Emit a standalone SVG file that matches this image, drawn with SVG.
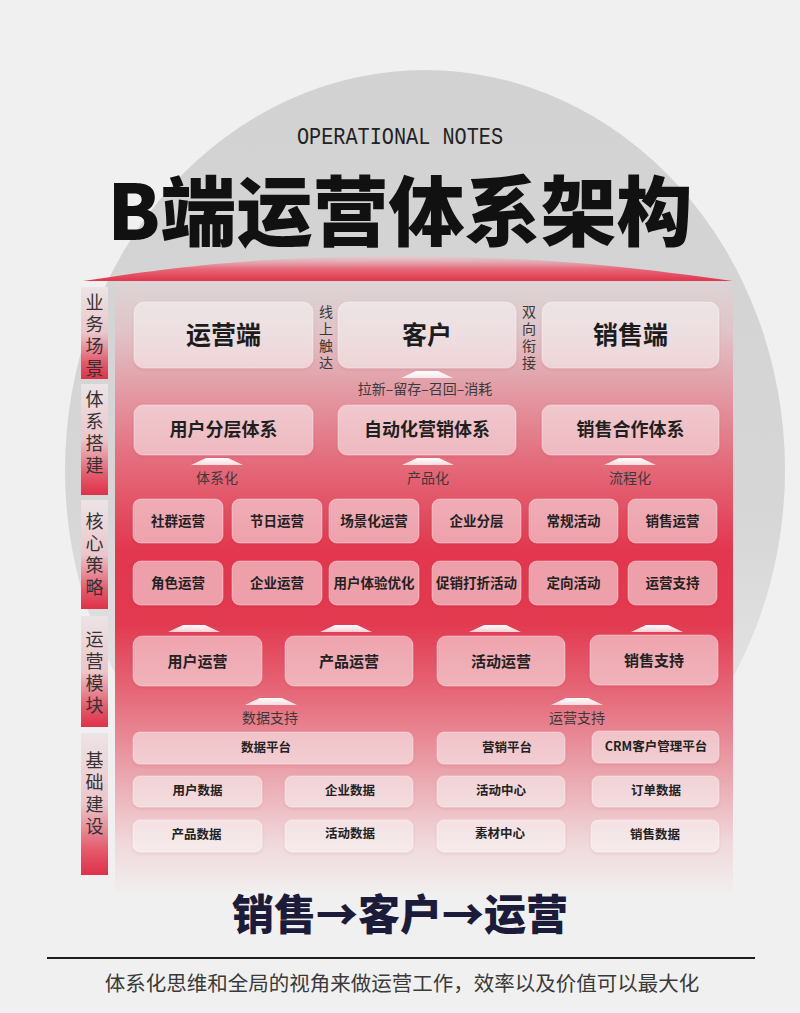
<svg xmlns="http://www.w3.org/2000/svg" width="800" height="1013" viewBox="0 0 800 1013">
  <defs>
    <linearGradient id="circleGrad" x1="0" y1="0" x2="0" y2="1">
      <stop offset="0" stop-color="#d2d2d2"/>
      <stop offset="0.55" stop-color="#d6d6d6"/>
      <stop offset="0.78" stop-color="#e3e3e3"/>
      <stop offset="1" stop-color="#f0f0f0"/>
    </linearGradient>
    <linearGradient id="roofGrad" x1="0" y1="0" x2="0" y2="1">
      <stop offset="0" stop-color="#e8c9cd" stop-opacity="0.6"/>
      <stop offset="0.5" stop-color="#e66b7c"/>
      <stop offset="1" stop-color="#e1344b"/>
    </linearGradient>
    <linearGradient id="panelGrad" x1="0" y1="0" x2="0" y2="1">
      <stop offset="0" stop-color="#dcd4d5"/>
      <stop offset="0.08" stop-color="#e0c4c8"/>
      <stop offset="0.18" stop-color="#e39aa4"/>
      <stop offset="0.3" stop-color="#e46a7a"/>
      <stop offset="0.44" stop-color="#e2374e"/>
      <stop offset="0.56" stop-color="#e23a50"/>
      <stop offset="0.68" stop-color="#e66b7b"/>
      <stop offset="0.8" stop-color="#eaa2ab"/>
      <stop offset="0.92" stop-color="#f0d8db"/>
      <stop offset="1" stop-color="#f1eeee"/>
    </linearGradient>
    <linearGradient id="labelGrad" x1="0" y1="0" x2="0" y2="1">
      <stop offset="0" stop-color="#ece4e5"/>
      <stop offset="0.5" stop-color="#ebc6cb"/>
      <stop offset="0.82" stop-color="#e45a6c"/>
      <stop offset="1" stop-color="#df3149"/>
    </linearGradient>
    <linearGradient id="arrowGrad" x1="0" y1="0" x2="0" y2="1">
      <stop offset="0" stop-color="#ffffff"/>
      <stop offset="1" stop-color="#ffffff" stop-opacity="0.75"/>
    </linearGradient>
    <filter id="shadow" x="-10%" y="-20%" width="120%" height="150%">
      <feDropShadow dx="0" dy="1.5" stdDeviation="1.5" flood-color="#8a2030" flood-opacity="0.18"/>
    </filter>
    <symbol id="chev" viewBox="0 0 52 7" overflow="visible">
      <polygon points="0,7 15,0 37,0 52,7" fill="url(#arrowGrad)"/>
    </symbol>
  </defs>
  <style>
    .cjk { font-family: "Noto Sans CJK SC", "Noto Sans", sans-serif; }
    .box { fill: #ffffff; fill-opacity: 0.5; stroke: #ffffff; stroke-opacity: 0.35; stroke-width: 1; filter: url(#shadow); }
    .lbl { fill: url(#labelGrad); }
    .side { font-size: 18px; fill: #333333; writing-mode: vertical-rl; letter-spacing: 4px; }
    .t1 { font-size: 25px; font-weight: 700; fill: #1c1c1c; text-anchor: middle; }
    .t2 { font-size: 18px; font-weight: 700; fill: #1f1f1f; text-anchor: middle; }
    .t3 { font-size: 13.5px; font-weight: 700; fill: #222222; text-anchor: middle; }
    .t4 { font-size: 15px; font-weight: 700; fill: #222222; text-anchor: middle; }
    .t5 { font-size: 12.5px; font-weight: 700; fill: #222222; text-anchor: middle; }
    .note { font-size: 14px; fill: #3a3a3a; text-anchor: middle; }
    .vnote { font-size: 14px; fill: #3a3a3a; writing-mode: vertical-rl; letter-spacing: 3px; }
  </style>

  <rect x="0" y="0" width="800" height="1013" fill="#f0f0f0"/>
  <ellipse cx="425" cy="470" rx="360" ry="400" fill="url(#circleGrad)"/>

  <text x="400" y="144" font-family="Liberation Mono, monospace" font-size="23" fill="#222222" text-anchor="middle" textLength="206" lengthAdjust="spacingAndGlyphs">OPERATIONAL NOTES</text>
  <text class="cjk" x="400" y="240" font-size="76" font-weight="900" fill="#111111" text-anchor="middle">B端运营体系架构</text>

  <path d="M83,281 C200,263 270,257 400,256 C530,257 600,263 733,281 Z" fill="url(#roofGrad)"/>
  <rect x="115" y="282" width="618" height="610" fill="url(#panelGrad)"/>

  <!-- side labels -->
  <g id="label-yewu"><rect class="lbl" x="81" y="287" width="27" height="92"/>
    <text class="cjk side" x="94.5" y="293">业务场景</text></g>
  <g id="label-tixi"><rect class="lbl" x="81" y="384" width="27" height="111"/>
    <text class="cjk side" x="94.5" y="390">体系搭建</text></g>
  <g id="label-hexin"><rect class="lbl" x="81" y="500" width="27" height="109"/>
    <text class="cjk side" x="94.5" y="512">核心策略</text></g>
  <g id="label-yunying"><rect class="lbl" x="81" y="616" width="27" height="111"/>
    <text class="cjk side" x="94.5" y="630">运营模块</text></g>
  <g id="label-jichu"><rect class="lbl" x="81" y="733" width="27" height="142"/>
    <text class="cjk side" x="94.5" y="751">基础建设</text></g>

  <!-- connectors -->
  <g id="connectors">
    <use href="#chev" x="401" y="371" width="52" height="7"/>
    <use href="#chev" x="191" y="458" width="52" height="7"/>
    <use href="#chev" x="402" y="458" width="52" height="7"/>
    <use href="#chev" x="604" y="458" width="52" height="7"/>
    <use href="#chev" x="168" y="625" width="52" height="7"/>
    <use href="#chev" x="320" y="625" width="52" height="7"/>
    <use href="#chev" x="469" y="625" width="52" height="7"/>
    <use href="#chev" x="631" y="625" width="52" height="7"/>
    <use href="#chev" x="245" y="698" width="52" height="7"/>
    <use href="#chev" x="551" y="698" width="52" height="7"/>
    <text class="cjk note" x="425" y="394">拉新–留存–召回–消耗</text>
    <text class="cjk note" x="217" y="483">体系化</text>
    <text class="cjk note" x="428" y="483">产品化</text>
    <text class="cjk note" x="630" y="483">流程化</text>
    <text class="cjk note" x="270" y="723">数据支持</text>
    <text class="cjk note" x="577" y="723">运营支持</text>
    <text class="cjk vnote" x="326" y="305">线上触达</text>
    <text class="cjk vnote" x="529" y="305">双向衔接</text>
  </g>

  <!-- row 1 -->
  <g id="n-yunyingduan"><rect class="box" x="134" y="302" width="179" height="66" rx="10"/><text class="cjk t1" x="223.5" y="344">运营端</text></g>
  <g id="n-kehu"><rect class="box" x="338" y="302" width="178" height="66" rx="10"/><text class="cjk t1" x="427" y="344">客户</text></g>
  <g id="n-xiaoshouduan"><rect class="box" x="542" y="302" width="177" height="66" rx="10"/><text class="cjk t1" x="630.5" y="344">销售端</text></g>

  <!-- row 2 -->
  <g id="n-yonghufenceng"><rect class="box" x="134" y="405" width="179" height="50" rx="9"/><text class="cjk t2" x="223.5" y="436">用户分层体系</text></g>
  <g id="n-zidonghua"><rect class="box" x="338" y="405" width="178" height="50" rx="9"/><text class="cjk t2" x="427" y="436">自动化营销体系</text></g>
  <g id="n-xiaoshouhezuo"><rect class="box" x="542" y="405" width="177" height="50" rx="9"/><text class="cjk t2" x="630.5" y="436">销售合作体系</text></g>

  <!-- row 3 -->
  <g id="n-shequn"><rect class="box" x="133" y="499" width="90" height="44" rx="8"/><text class="cjk t3" x="178" y="526">社群运营</text></g>
  <g id="n-jieri"><rect class="box" x="232" y="499" width="90" height="44" rx="8"/><text class="cjk t3" x="277" y="526">节日运营</text></g>
  <g id="n-changjinghua"><rect class="box" x="329" y="499" width="90" height="44" rx="8"/><text class="cjk t3" x="374" y="526">场景化运营</text></g>
  <g id="n-qiyefenceng"><rect class="box" x="432" y="499" width="89" height="44" rx="8"/><text class="cjk t3" x="476.5" y="526">企业分层</text></g>
  <g id="n-changgui"><rect class="box" x="529" y="499" width="89" height="44" rx="8"/><text class="cjk t3" x="573.5" y="526">常规活动</text></g>
  <g id="n-xiaoshouyunying"><rect class="box" x="628" y="499" width="89" height="44" rx="8"/><text class="cjk t3" x="672.5" y="526">销售运营</text></g>

  <g id="n-juese"><rect class="box" x="133" y="561" width="90" height="44" rx="8"/><text class="cjk t3" x="178" y="588">角色运营</text></g>
  <g id="n-qiyeyunying"><rect class="box" x="232" y="561" width="90" height="44" rx="8"/><text class="cjk t3" x="277" y="588">企业运营</text></g>
  <g id="n-tiyan"><rect class="box" x="329" y="561" width="90" height="44" rx="8"/><text class="cjk t3" x="374" y="588">用户体验优化</text></g>
  <g id="n-cuxiao"><rect class="box" x="432" y="561" width="89" height="44" rx="8"/><text class="cjk t3" x="476.5" y="588">促销打折活动</text></g>
  <g id="n-dingxiang"><rect class="box" x="529" y="561" width="89" height="44" rx="8"/><text class="cjk t3" x="573.5" y="588">定向活动</text></g>
  <g id="n-yunyingzhichi"><rect class="box" x="628" y="561" width="89" height="44" rx="8"/><text class="cjk t3" x="672.5" y="588">运营支持</text></g>

  <!-- row 4 -->
  <g id="n-yonghuyunying"><rect class="box" x="133" y="636" width="129" height="50" rx="9"/><text class="cjk t4" x="197.5" y="667">用户运营</text></g>
  <g id="n-chanpinyunying"><rect class="box" x="285" y="636" width="128" height="50" rx="9"/><text class="cjk t4" x="349" y="667">产品运营</text></g>
  <g id="n-huodongyunying"><rect class="box" x="437" y="636" width="128" height="50" rx="9"/><text class="cjk t4" x="501" y="667">活动运营</text></g>
  <g id="n-xiaoshouzhichi"><rect class="box" x="590" y="635" width="128" height="50" rx="9"/><text class="cjk t4" x="654" y="666">销售支持</text></g>

  <!-- row 5 -->
  <g id="n-shujupingtai"><rect class="box" x="133" y="732" width="280" height="32" rx="7"/><text class="cjk t5" x="266" y="752">数据平台</text></g>
  <g id="n-yingxiaopingtai"><rect class="box" x="437" y="732" width="128" height="32" rx="7"/><text class="cjk t5" x="507" y="752">营销平台</text></g>
  <g id="n-crm"><rect class="box" x="592" y="731" width="127" height="32" rx="7"/><text class="cjk t5" x="656" y="751">CRM客户管理平台</text></g>

  <g id="n-yonghushuju"><rect class="box" x="133" y="776" width="129" height="31" rx="7"/><text class="cjk t5" x="197.5" y="795">用户数据</text></g>
  <g id="n-qiyeshuju"><rect class="box" x="285" y="776" width="128" height="31" rx="7"/><text class="cjk t5" x="350" y="795">企业数据</text></g>
  <g id="n-huodongzhongxin"><rect class="box" x="437" y="776" width="128" height="31" rx="7"/><text class="cjk t5" x="501" y="795">活动中心</text></g>
  <g id="n-dingdanshuju"><rect class="box" x="592" y="776" width="127" height="31" rx="7"/><text class="cjk t5" x="656" y="795">订单数据</text></g>

  <g id="n-chanpinshuju"><rect class="box" x="133" y="820" width="129" height="32" rx="7"/><text class="cjk t5" x="196.5" y="839">产品数据</text></g>
  <g id="n-huodongshuju"><rect class="box" x="285" y="820" width="128" height="32" rx="7"/><text class="cjk t5" x="350" y="838">活动数据</text></g>
  <g id="n-sucai"><rect class="box" x="437" y="820" width="128" height="32" rx="7"/><text class="cjk t5" x="500" y="838">素材中心</text></g>
  <g id="n-xiaoshoushuju"><rect class="box" x="591" y="820" width="128" height="32" rx="7"/><text class="cjk t5" x="655" y="839">销售数据</text></g>

  <!-- bottom -->
  <text class="cjk" x="400" y="930" font-size="42" font-weight="900" fill="#1c1b3a" text-anchor="middle">销售→客户→运营</text>
  <line x1="47" y1="958" x2="755" y2="958" stroke="#1e1e1e" stroke-width="2"/>
  <text class="cjk" x="402" y="991" font-size="20.5" fill="#3a3a3a" text-anchor="middle">体系化思维和全局的视角来做运营工作，效率以及价值可以最大化</text>
</svg>
